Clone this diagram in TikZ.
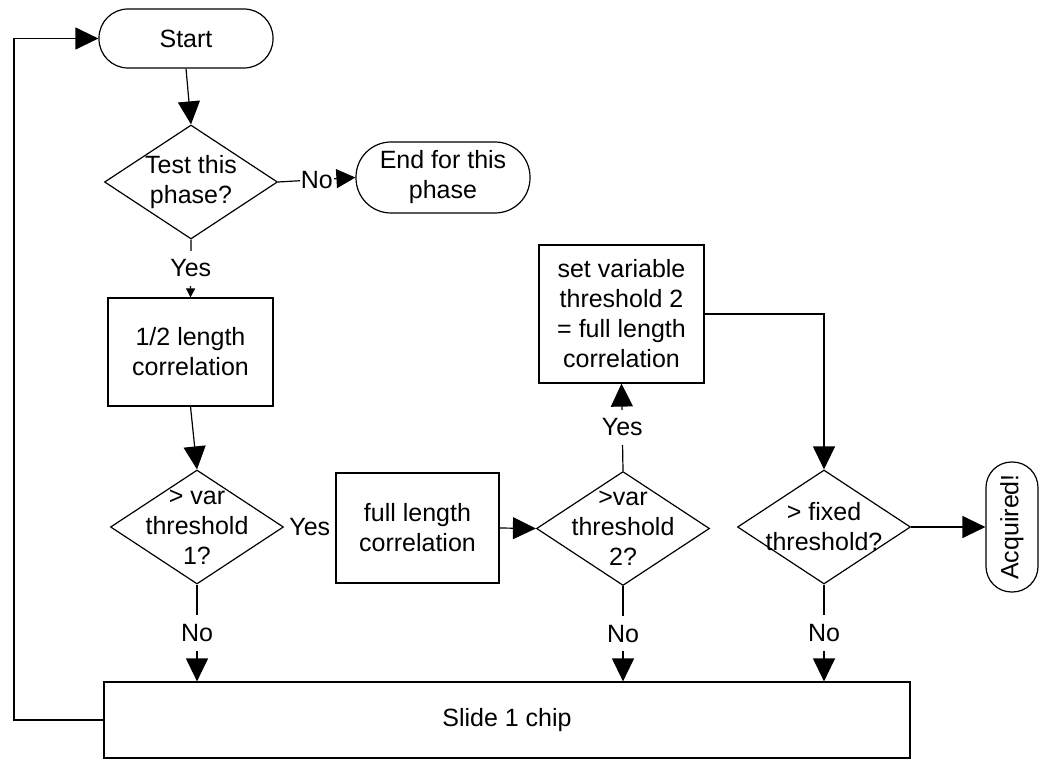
\documentclass[tikz,border=0pt]{standalone}
\usepackage{fontspec}
\setmainfont{Liberation Sans}
\usetikzlibrary{shapes.geometric,arrows.meta}

\begin{document}
\begin{tikzpicture}[x=1pt,y=-1pt,
  every node/.style={font=\fontsize{25}{30}\selectfont},
  line/.style={line width=1.2pt},
  arr/.style={line, -{Triangle[length=23pt,width=22pt]}},
  smallarr/.style={line, -{Triangle[length=9pt,width=9pt]}},
  box/.style={draw, line width=1.2pt, rectangle, align=center, inner sep=0pt},
  term/.style={draw, line width=1.2pt, rectangle, align=center, inner sep=0pt},
  decision/.style={draw, line width=1.2pt, diamond, align=center, inner sep=-25pt,
                   minimum width=173pt, minimum height=114pt},
  lab/.style={fill=white, inner xsep=1pt, inner ysep=9pt}
]
\useasboundingbox (0,0) rectangle (1040,759);

% process steps and decisions
\node[term, minimum width=174pt, minimum height=59pt, rounded corners=29pt] (start) at (186,38.5) {Start};
\node[decision] (d1) at (191,182) {Test this\\phase?};
\node[term, minimum width=174pt, minimum height=71pt, rounded corners=35pt] (endp) at (443,177.5) {End for this\\phase};
\node[box, minimum width=165pt, minimum height=108pt] (half) at (190.5,352) {1/2 length\\correlation};
\node[decision] (d2) at (197,527) {> var\\threshold\\1?};
\node[box, minimum width=163pt, minimum height=110pt] (full) at (417.5,528) {full length\\correlation};
\node[decision] (d3) at (623,528.5) {>var\\threshold\\2?};
\node[box, minimum width=165pt, minimum height=138pt] (setv) at (621.5,314) {set variable\\threshold 2\\= full length\\correlation};
\node[decision] (d4) at (824,527) {> fixed\\threshold?};
\node[term, minimum width=52pt, minimum height=130pt, rounded corners=25.5pt] (acq) at (1012,527) {\rotatebox{90}{Acquired!}};
\node[box, minimum width=806pt, minimum height=76pt] (slide) at (507,720) {Slide 1 chip};

% loop back to the start
\coordinate (loopb) at (14,720);
\draw[arr] (slide.west) -- (loopb) |- (start.west);

% flow connectors
\draw[arr] (start.south) -- (d1.north);
\draw[line, -{Triangle[length=19pt,width=19pt]}] (d1.east) -- node[lab]{No} (endp.west);
\draw[smallarr] (d1.south) -- node[lab]{Yes} (half.north);
\draw[arr] (half.south) -- (d2.north);
\path (d2.east) -- node{Yes} (full.west);
\draw[arr] (full.east) -- (d3.west);
\draw[arr] (d3.north) -- node[lab]{Yes} (setv.south);
\draw[arr] (setv.east) -| (d4.north);
\draw[arr] (d4.east) -- (acq.west);
\foreach \d in {d2,d3,d4}
  \draw[arr] (\d.south) -- node[lab]{No} (\d.south |- slide.north);
\end{tikzpicture}
\end{document}
